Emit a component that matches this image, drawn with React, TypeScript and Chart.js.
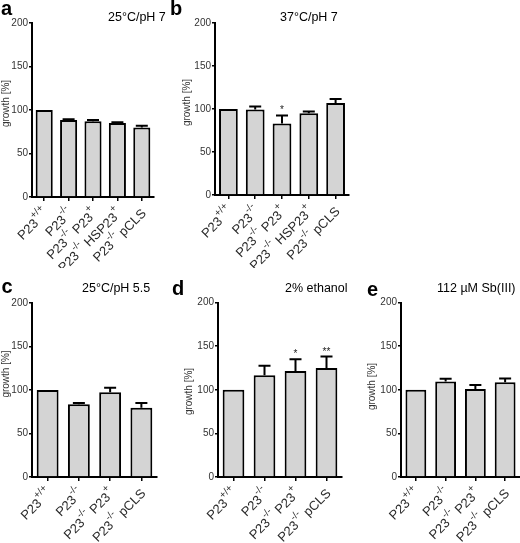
import React, { useEffect, useRef } from "react";
import { Chart, registerables } from "chart.js";
Chart.register(...registerables);

const FONT = '"Liberation Sans", Arial, Helvetica, sans-serif';

// ---- data ----
const genotypes5 = ["P23^{+/+}", "P23^{-/-}", "P23^{-/-} P23^{+}", "P23^{-/-} HSP23^{+}", "P23^{-/-} pCLS"];
const genotypes4 = ["P23^{+/+}", "P23^{-/-}", "P23^{-/-} P23^{+}", "P23^{-/-} pCLS"];
const yTicks = [0, 50, 100, 150, 200];
const yAxisTitle = "growth [%]";

const growthA = [100, 88.5, 87, 85, 80];
const errorA = [0, 1, 1.5, 1, 2];
const starsA = ["", "", "", "", ""];

const growthB = [100, 99.5, 83, 95, 107];
const errorB = [0, 3.5, 9.5, 2, 4.5];
const starsB = ["", "", "*", "", ""];

const growthC = [100, 83.5, 97.5, 79.5];
const errorC = [0, 1.5, 5, 5.5];
const starsC = ["", "", "", ""];

const growthD = [100, 116.5, 121.5, 125];
const errorD = [0, 11, 13.5, 13];
const starsD = ["", "", "*", "**"];

const growthE = [100, 109.5, 101, 108.5];
const errorE = [0, 3, 4.5, 4.5];
const starsE = ["", "", "", ""];

const panelLetters = ["a", "b", "c", "d", "e"];
const conditions = ["25°C/pH 7", "37°C/pH 7", "25°C/pH 5.5", "2% ethanol", "112 µM Sb(III)"];

// ---- layout (positions/sizes only) ----
const panels = [
  { labels: genotypes5, values: growthA, errors: errorA, stars: starsA, letter: panelLetters[0], cond: conditions[0],
    left: 0, top: 0, w: 170, h: 268, ca: { l: 32, r: 154, t: 23, b: 197 },
    letterPos: [1, 15], condPos: [108, 20.5], yTitlePos: [6.5, 103.5] },
  { labels: genotypes5, values: growthB, errors: errorB, stars: starsB, letter: panelLetters[1], cond: conditions[1],
    left: 170, top: 0, w: 180, h: 268, ca: { l: 45, r: 179, t: 23, b: 195 },
    letterPos: [0, 15], condPos: [110, 20.5], yTitlePos: [17.5, 102.5] },
  { labels: genotypes4, values: growthC, errors: errorC, stars: starsC, letter: panelLetters[2], cond: conditions[2],
    left: 0, top: 268, w: 170, h: 275, ca: { l: 32, r: 157, t: 35, b: 209 },
    letterPos: [1.5, 25], condPos: [82, 24], yTitlePos: [6, 106] },
  { labels: genotypes4, values: growthD, errors: errorD, stars: starsD, letter: panelLetters[3], cond: conditions[3],
    left: 170, top: 268, w: 180, h: 275, ca: { l: 48, r: 172, t: 34.5, b: 209 },
    letterPos: [2, 27], condPos: [115, 24], yTitlePos: [19, 123.5] },
  { labels: genotypes4, values: growthE, errors: errorE, stars: starsE, letter: panelLetters[4], cond: conditions[4],
    left: 340, top: 268, w: 180, h: 275, ca: { l: 61, r: 180, t: 34.5, b: 209 },
    letterPos: [27, 28], condPos: [97, 24], yTitlePos: [32.5, 118.5] },
];

type Seg = { t: string; sup: boolean };
function parseLabel(s: string): Seg[] {
  const segs: Seg[] = [];
  const re = /\^\{([^}]*)\}/g;
  let last = 0;
  let m: RegExpExecArray | null;
  while ((m = re.exec(s))) {
    if (m.index > last) segs.push({ t: s.slice(last, m.index), sup: false });
    segs.push({ t: m[1], sup: true });
    last = re.lastIndex;
  }
  if (last < s.length) segs.push({ t: s.slice(last), sup: false });
  return segs;
}
const plain = (s: string) => s.replace(/\^\{([^}]*)\}/g, "$1");

function Panel({ p }: { p: any }) {
  const ref = useRef<HTMLCanvasElement>(null);
  useEffect(() => {
    const decor = {
      id: "decor",
      afterDatasetsDraw(chart: any) {
        const ctx = chart.ctx;
        const xs = chart.scales.x;
        const ys = chart.scales.y;
        ctx.save();
        // error bars + significance
        ctx.strokeStyle = "#000";
        ctx.lineWidth = 2;
        p.values.forEach((v: number, i: number) => {
          const e = p.errors[i];
          const px = xs.getPixelForValue(i);
          const y1 = ys.getPixelForValue(v + e);
          if (e > 0) {
            const y0 = ys.getPixelForValue(v);
            ctx.beginPath();
            ctx.moveTo(px, y0);
            ctx.lineTo(px, y1);
            ctx.moveTo(px - 6, y1);
            ctx.lineTo(px + 6, y1);
            ctx.stroke();
          }
          if (p.stars[i]) {
            ctx.fillStyle = "#222";
            ctx.font = `10px ${FONT}`;
            ctx.textAlign = "center";
            ctx.textBaseline = "alphabetic";
            ctx.fillText(p.stars[i], px, y1 - 2);
          }
        });
        // x tick labels (rotated, with superscripts)
        const normal = `13px ${FONT}`;
        const sup = `10px ${FONT}`;
        ctx.fillStyle = "#2a2a2a";
        ctx.textAlign = "left";
        ctx.textBaseline = "alphabetic";
        p.labels.forEach((raw: string, i: number) => {
          const segs = parseLabel(raw);
          const widths = segs.map((s) => {
            ctx.font = s.sup ? sup : normal;
            return ctx.measureText(s.t).width;
          });
          const total = widths.reduce((a: number, b: number) => a + b, 0);
          const px = xs.getPixelForValue(i);
          ctx.save();
          ctx.translate(px + 1.5, chart.chartArea.bottom + 13.5);
          ctx.rotate(-Math.PI / 4);
          let cx = -total;
          segs.forEach((s, k) => {
            ctx.font = s.sup ? sup : normal;
            ctx.fillText(s.t, cx, s.sup ? -2.5 : 5);
            cx += widths[k];
          });
          ctx.restore();
        });
        // y title
        ctx.save();
        ctx.translate(p.yTitlePos[0], p.yTitlePos[1]);
        ctx.rotate(-Math.PI / 2);
        ctx.font = `10px ${FONT}`;
        ctx.fillStyle = "#333";
        ctx.textAlign = "center";
        ctx.textBaseline = "middle";
        ctx.fillText(yAxisTitle, 0, 0);
        ctx.restore();
        // panel letter
        ctx.font = `bold 20px ${FONT}`;
        ctx.fillStyle = "#000";
        ctx.textAlign = "left";
        ctx.textBaseline = "alphabetic";
        ctx.fillText(p.letter, p.letterPos[0], p.letterPos[1]);
        // condition title
        ctx.font = `12.5px ${FONT}`;
        ctx.fillText(p.cond, p.condPos[0], p.condPos[1]);
        ctx.restore();
      },
    };
    const chart = new Chart(ref.current as HTMLCanvasElement, {
      type: "bar",
      data: {
        labels: p.labels.map(plain),
        datasets: [
          {
            data: p.values,
            backgroundColor: "#d4d4d4",
            borderColor: "#000",
            borderWidth: 2,
            borderSkipped: "start",
            barPercentage: 0.7,
            categoryPercentage: 1,
          },
        ],
      },
      options: {
        responsive: false,
        animation: false,
        devicePixelRatio: 1,
        layout: { padding: { left: 0, top: p.ca.t, right: p.w - p.ca.r, bottom: 0 } },
        plugins: { legend: { display: false }, tooltip: { enabled: false }, title: { display: false } },
        scales: {
          x: {
            type: "category",
            offset: true,
            grid: { display: true, drawOnChartArea: false, drawTicks: true, tickLength: 4, color: "#000", lineWidth: 1.5, offset: false },
            border: { display: true, color: "#000", width: 2 },
            ticks: { display: false },
            afterFit: (s: any) => {
              s.height = p.h - p.ca.b;
            },
          },
          y: {
            min: 0,
            max: 200,
            afterBuildTicks: (s: any) => {
              s.ticks = yTicks.map((v) => ({ value: v }));
            },
            grid: { display: true, drawOnChartArea: false, drawTicks: true, tickLength: 3, color: "#000", lineWidth: 1.5 },
            border: { display: true, color: "#000", width: 2 },
            ticks: { font: { family: FONT, size: 10 }, color: "#333", padding: 1 },
            afterFit: (s: any) => {
              s.width = p.ca.l;
            },
          },
        },
      } as any,
      plugins: [decor],
    });
    return () => chart.destroy();
  }, []);
  return (
    <canvas
      ref={ref}
      width={p.w}
      height={p.h}
      style={{ position: "absolute", left: p.left, top: p.top, width: p.w, height: p.h }}
    />
  );
}

export default function App() {
  return (
    <div style={{ position: "absolute", left: 0, top: 0, width: 520, height: 543, background: "#fff", overflow: "hidden" }}>
      {panels.map((p, i) => (
        <Panel key={i} p={p} />
      ))}
    </div>
  );
}
